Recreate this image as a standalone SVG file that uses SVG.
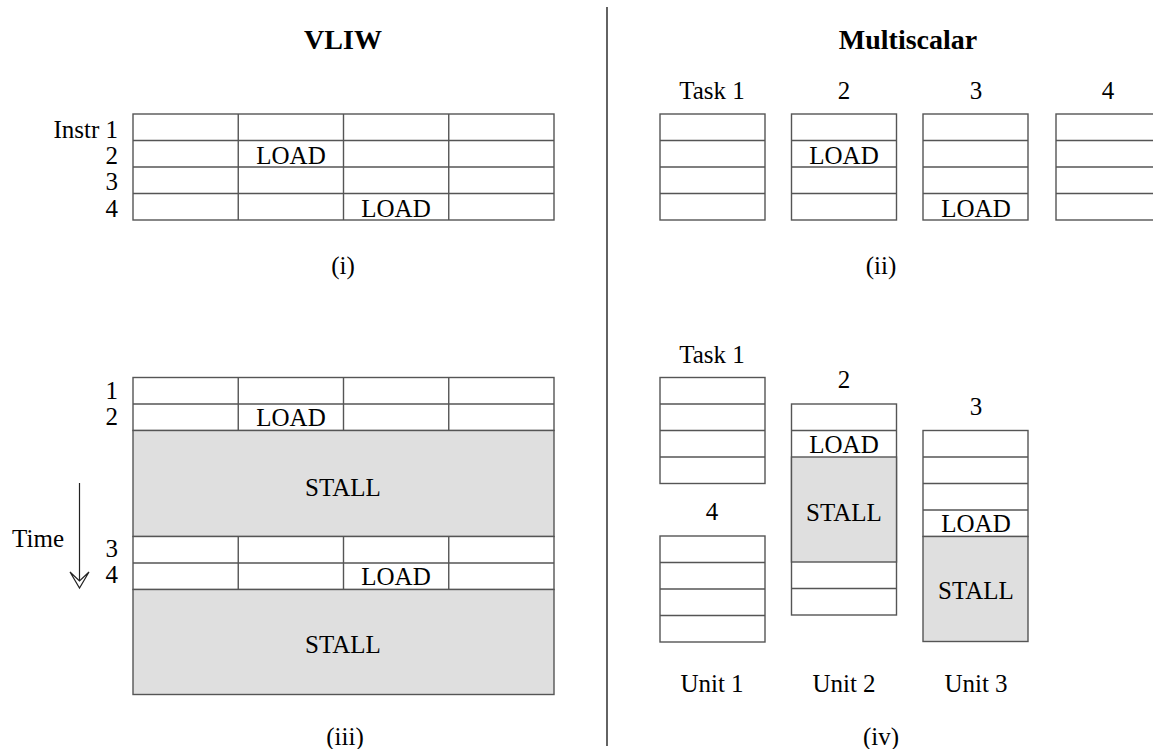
<svg xmlns="http://www.w3.org/2000/svg" width="1153" height="749" viewBox="0 0 1153 749">
<style>
text{font-family:"Liberation Serif","Times New Roman",serif;font-size:25px;fill:#000}
.t{font-weight:bold;font-size:28px;text-anchor:middle}
.c{text-anchor:middle}
.r{text-anchor:end}
.cell{fill:#fff;stroke:#555;stroke-width:1.4}
.st{fill:#dfdfdf;stroke:#555;stroke-width:1.4}
.ln{stroke:#555;stroke-width:1.4;fill:none}
</style>
<rect width="1153" height="749" fill="#fff"/>
<g id="titles">
<text class="t" x="343" y="49">VLIW</text>
<text class="t" x="908" y="49">Multiscalar</text>
<line x1="607" y1="7" x2="607" y2="746" stroke="#222" stroke-width="1.4"/>
</g>
<g id="vliw-i">
<rect class="cell" x="133" y="114" width="421" height="106"/>
<path class="ln" d="M133 140.5H554M133 167H554M133 193.5H554M238.25 114V220M343.5 114V220M448.75 114V220"/>
<text class="r" x="118" y="138">Instr 1</text>
<text class="r" x="118" y="164">2</text>
<text class="r" x="118" y="190">3</text>
<text class="r" x="118" y="217">4</text>
<text class="c" x="291" y="164">LOAD</text>
<text class="c" x="396" y="217">LOAD</text>
<text class="c" x="343" y="274">(i)</text>
</g>
<g id="multi-ii">
<g id="task1-ii">
<rect class="cell" x="660" y="114" width="105" height="106"/>
<path class="ln" d="M660 140.5H765M660 167H765M660 193.5H765"/>
<text class="c" x="712" y="99">Task 1</text>
</g>
<g id="task2-ii">
<rect class="cell" x="791.5" y="114" width="105" height="106"/>
<path class="ln" d="M791.5 140.5H896.5M791.5 167H896.5M791.5 193.5H896.5"/>
<text class="c" x="844" y="99">2</text>
<text class="c" x="844" y="164">LOAD</text>
</g>
<g id="task3-ii">
<rect class="cell" x="923" y="114" width="105" height="106"/>
<path class="ln" d="M923 140.5H1028M923 167H1028M923 193.5H1028"/>
<text class="c" x="976" y="99">3</text>
<text class="c" x="976" y="217">LOAD</text>
</g>
<g id="task4-ii">
<rect class="cell" x="1056" y="114" width="110" height="106"/>
<path class="ln" d="M1056 140.5H1166M1056 167H1166M1056 193.5H1166"/>
<text class="c" x="1108" y="99">4</text>
</g>
<text class="c" x="881" y="274">(ii)</text>
</g>
<g id="vliw-iii">
<rect class="cell" x="133" y="377.5" width="421" height="53"/>
<path class="ln" d="M133 404H554M238.25 377.5V430.5M343.5 377.5V430.5M448.75 377.5V430.5"/>
<rect class="st" x="133" y="430.5" width="421" height="106"/>
<rect class="cell" x="133" y="536.5" width="421" height="53"/>
<path class="ln" d="M133 563H554M238.25 536.5V589.5M343.5 536.5V589.5M448.75 536.5V589.5"/>
<rect class="st" x="133" y="589.5" width="421" height="105"/>
<text class="r" x="118" y="399">1</text>
<text class="r" x="118" y="425">2</text>
<text class="r" x="118" y="557">3</text>
<text class="r" x="118" y="583">4</text>
<text class="c" x="291" y="426">LOAD</text>
<text class="c" x="396" y="585">LOAD</text>
<text class="c" x="343" y="496">STALL</text>
<text class="c" x="343" y="653">STALL</text>
<text class="r" x="64" y="547">Time</text>
<line x1="79.5" y1="483" x2="79.5" y2="581" stroke="#222" stroke-width="1.2"/>
<path d="M70 572L79.5 588L89 572L79.5 581Z" fill="#fff" stroke="#222" stroke-width="1.2" stroke-linejoin="miter"/>
<text class="c" x="345" y="745">(iii)</text>
</g>
<g id="multi-iv">
<g id="unit1">
<rect class="cell" x="660" y="377.5" width="105" height="106"/>
<path class="ln" d="M660 404H765M660 430.5H765M660 457H765"/>
<text class="c" x="712" y="363">Task 1</text>
<rect class="cell" x="660" y="536" width="105" height="106"/>
<path class="ln" d="M660 562.5H765M660 589H765M660 615.5H765"/>
<text class="c" x="712" y="520">4</text>
<text class="c" x="712" y="692">Unit 1</text>
</g>
<g id="unit2">
<rect class="cell" x="791.5" y="404" width="105" height="211"/>
<rect class="st" x="791.5" y="457" width="105" height="105"/>
<path class="ln" d="M791.5 430.5H896.5M791.5 588.5H896.5"/>
<text class="c" x="844" y="388">2</text>
<text class="c" x="844" y="453">LOAD</text>
<text class="c" x="844" y="521">STALL</text>
<text class="c" x="844" y="692">Unit 2</text>
</g>
<g id="unit3">
<rect class="cell" x="923" y="430.5" width="105" height="106"/>
<path class="ln" d="M923 457H1028M923 483.5H1028M923 510H1028"/>
<rect class="st" x="923" y="536.5" width="105" height="105"/>
<text class="c" x="976" y="415">3</text>
<text class="c" x="976" y="532">LOAD</text>
<text class="c" x="976" y="599">STALL</text>
<text class="c" x="976" y="692">Unit 3</text>
</g>
<text class="c" x="881" y="745">(iv)</text>
</g>
</svg>
